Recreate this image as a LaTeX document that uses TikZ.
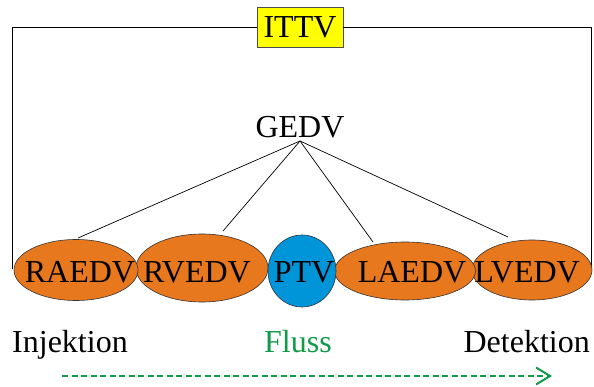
\documentclass[tikz,border=0pt]{standalone}
\usepackage{fontspec}
\setmainfont{Liberation Serif}
\usetikzlibrary{shapes.geometric,arrows.meta}
\definecolor{orng}{HTML}{E8781E}
\definecolor{blu}{HTML}{0094D8}
\definecolor{grn}{HTML}{119A48}
\definecolor{ylw}{HTML}{FFFF00}
\begin{document}
\begin{tikzpicture}[x=1pt,y=-1pt,
  lbl/.style={font=\fontsize{32}{36}\selectfont, inner sep=0pt},
  ell/.style={ellipse, draw=black!80, line width=0.6pt, inner sep=0pt},
  conn/.style={draw=black, line width=0.7pt}]
\useasboundingbox (0,0) rectangle (594,387);
% frame
\coordinate (fl) at (12,269);
\coordinate (fr) at (591,269);
\node[draw=black!70, fill=ylw, line width=0.7pt, minimum width=86pt, minimum height=40pt, inner sep=0pt, font=\fontsize{32}{36}\selectfont] (ittv) at (300,27) {ITTV};
\draw[conn] (fl) |- (ittv.west);
\draw[conn] (fr) |- (ittv.east);
% ellipses
\node[ell, fill=orng, minimum width=132pt, minimum height=68pt] (rv) at (202,268) {};
\node[ell, fill=orng, minimum width=124pt, minimum height=61pt] (ra) at (76,270) {};
\node[ell, fill=orng, minimum width=120pt, minimum height=60pt] (lv) at (532,270) {};
\node[ell, fill=orng, minimum width=141pt, minimum height=58pt] (la) at (405,271) {};
\node[ell, fill=blu, minimum width=68pt, minimum height=72pt] (ptv) at (302,271) {};
\node[lbl, anchor=base] (tra) at (80,283) {RAEDV};
\node[lbl, anchor=base] (trv) at (197,283) {RVEDV};
\node[lbl, anchor=base] (tptv) at (304,283) {PTV};
\node[lbl, anchor=base] (tla) at (412,283) {LAEDV};
\node[lbl, anchor=base] (tlv) at (527,283) {LVEDV};
% GEDV
\node[lbl, anchor=base] (gedv) at (300,138) {GEDV};
\coordinate (g) at (300,141);
\coordinate (era) at (78,238);
\coordinate (erv) at (223,231);
\coordinate (ela) at (373,242);
\coordinate (elv) at (508,237);
\draw[conn] (g) -- (era);
\draw[conn] (g) -- (erv);
\draw[conn] (g) -- (ela);
\draw[conn] (g) -- (elv);
% bottom
\node[lbl, anchor=base west] (inj) at (12,352) {Injektion};
\node[lbl, anchor=base, text=grn] (fluss) at (298,352) {Fluss};
\node[lbl, anchor=base east] (det) at (590,352) {Detektion};
\coordinate (as) at (62,376);
\coordinate (ae) at (552,376);
\draw[grn, line width=2pt, dash pattern=on 6pt off 3.5pt, -{Straight Barb[length=14pt,width=17pt,line width=2pt]}] (as) -- (ae);
\end{tikzpicture}
\end{document}
